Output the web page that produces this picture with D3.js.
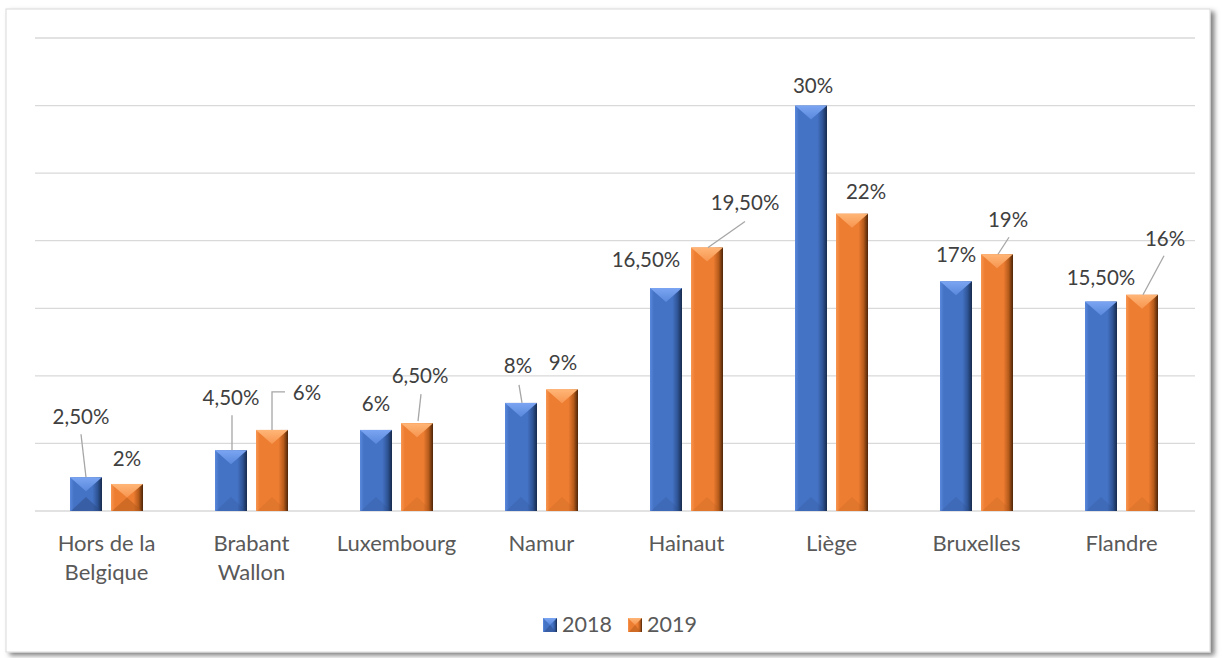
<!DOCTYPE html>
<html>
<head>
<meta charset="utf-8">
<script src="https://cdn.jsdelivr.net/npm/d3@7"></script>
<style>
  html, body { margin: 0; padding: 0; background: #fff; }
  svg { display: block; font-family: Lato, "Open Sans", sans-serif; }
</style>
</head>
<body>
<svg id="chart" width="1223" height="658"></svg>
<script>
// data
const categories = ["Hors de la Belgique", "Brabant Wallon", "Luxembourg", "Namur",
  "Hainaut", "Liège", "Bruxelles", "Flandre"];
const seriesNames = ["2018", "2019"];
const values2018 = [2.5, 4.5, 6, 8, 16.5, 30, 17, 15.5];
const values2019 = [2, 6, 6.5, 9, 19.5, 22, 19, 16];
const yTicks = [0, 5, 10, 15, 20, 25, 30, 35];

// label placement (offset from top centre of the bar), and leader lines
const labelOffsets2018 = [[-5, -60], [0, -52], [0, -26], [-3, -37], [-20, -28], [2, -20], [0, -26], [0, -24]];
const labelOffsets2019 = [[0, -25], [35, -37], [3, -47], [1, -26], [38, -44], [14, -22], [11, -34], [23, -56]];
const leaders2018 = [[[0, 0], [-5, -43]], [[1, 0], [1, -35]], null, [[1, 0], [-2, -18]], null, null, null, null];
const leaders2019 = [null, [[0, 0], [0, -38], [13, -38]], [[1, -2], [4, -29]], null, [[1, 0], [38, -26]], null, [[1, 0], [12, -17]], [[1, 0], [22, -39]]];

const palette = {
  "2018": { light: "#7ba5f2", hi: "#5a88dc", main: "#4472c4", shade: "#2f5597", dark: "#172a4c", bottom: "#2b4c88" },
  "2019": { light: "#ffb677", hi: "#f79550", main: "#ed7d31", shade: "#b85c1c", dark: "#4d2508", bottom: "#b35a1c" }
};

const svg = d3.select("#chart");
const defs = svg.append("defs");

// frame shadow
const f = defs.append("filter").attr("id", "shadow")
  .attr("x", "-2%").attr("y", "-2%").attr("width", "104%").attr("height", "106%");
f.append("feDropShadow").attr("dx", 4).attr("dy", 3).attr("stdDeviation", 2.5)
  .attr("flood-color", "#000").attr("flood-opacity", 0.5);

svg.append("rect")
  .attr("x", 6).attr("y", 9).attr("width", 1204).attr("height", 643)
  .attr("fill", "#fff").attr("stroke", "#d9d9d9").attr("stroke-width", 1)
  .attr("filter", "url(#shadow)");

// gradients per series
seriesNames.forEach(s => {
  const p = palette[s];
  const g = defs.append("linearGradient").attr("id", "body" + s)
    .attr("x1", 0).attr("x2", 1).attr("y1", 0).attr("y2", 0);
  [[0, p.hi], [0.12, p.main], [0.7, p.main], [0.86, p.shade], [1, p.dark]]
    .forEach(([o, c]) => g.append("stop").attr("offset", o).attr("stop-color", c));
  const t = defs.append("linearGradient").attr("id", "top" + s)
    .attr("x1", 0).attr("x2", 0).attr("y1", 0).attr("y2", 1);
  [[0, p.light], [1, p.hi]]
    .forEach(([o, c]) => t.append("stop").attr("offset", o).attr("stop-color", c));
});

// scales
const x0 = d3.scaleBand().domain(categories).range([35, 1195]).paddingInner(0.4828).paddingOuter(0.2414);
const x1 = d3.scaleBand().domain(seriesNames).range([0, 73]).paddingInner(0.22);
const y = d3.scaleLinear().domain([0, 35]).range([511, 38]);

// gridlines
svg.append("g").selectAll("line").data(yTicks).join("line")
  .attr("x1", 35).attr("x2", 1195)
  .attr("y1", d => y(d)).attr("y2", d => y(d))
  .attr("stroke", "#d9d9d9").attr("stroke-width", 1.3);

const fmt = v => (v % 1 ? v.toFixed(2).replace(".", ",") : v) + "%";

function bevelBar(g, s, bx, by, w, h, depth) {
  const p = palette[s];
  const d = Math.min(depth, h / 2, w / 2);
  g.append("rect").attr("x", bx).attr("y", by).attr("width", w).attr("height", h)
    .attr("fill", `url(#body${s})`);
  g.append("path")
    .attr("d", `M${bx},${by}L${bx + w},${by}L${bx + w / 2},${by + d}Z`)
    .attr("fill", `url(#top${s})`);
  g.append("path")
    .attr("d", `M${bx + 1},${by + h}L${bx + w - 1},${by + h}L${bx + w / 2},${by + h - d}Z`)
    .attr("fill", p.bottom).attr("opacity", h > 60 ? 0.2 : 0.5);
}

const series = [
  { name: "2018", values: values2018, offsets: labelOffsets2018, leaders: leaders2018 },
  { name: "2019", values: values2019, offsets: labelOffsets2019, leaders: leaders2019 }
];

const barsG = svg.append("g");
const linesG = svg.append("g");
const labelsG = svg.append("g");

series.forEach(sr => {
  sr.values.forEach((v, i) => {
    const bx = x0(categories[i]) + x1(sr.name);
    const w = x1.bandwidth();
    const top = y(v);
    const cx = bx + w / 2;
    bevelBar(barsG, sr.name, bx, top, w, y(0) - top, 14);

    const ld = sr.leaders[i];
    if (ld) {
      linesG.append("path")
        .attr("d", d3.line()(ld.map(([dx, dy]) => [cx + dx, top + dy])))
        .attr("fill", "none").attr("stroke", "#a6a6a6").attr("stroke-width", 1.3);
    }
    const [ox, oy] = sr.offsets[i];
    labelsG.append("text")
      .attr("x", cx + ox).attr("y", top + oy + 7)
      .attr("text-anchor", "middle")
      .attr("font-size", 20.5).attr("fill", "#404040")
      .text(fmt(v));
  });
});

// category axis labels (wrapped)
const axisG = svg.append("g");
categories.forEach(c => {
  const words = c.split(" ");
  const lines = [];
  let cur = "";
  words.forEach(wd => {
    const test = cur ? cur + " " + wd : wd;
    if (test.length > 10 && cur) { lines.push(cur); cur = wd; } else cur = test;
  });
  lines.push(cur);
  const t = axisG.append("text")
    .attr("text-anchor", "middle").attr("font-size", 22).attr("fill", "#595959");
  lines.forEach((ln, k) => {
    t.append("tspan").attr("x", x0(c) + x0.bandwidth() / 2 - 1).attr("y", 551 + k * 29).text(ln);
  });
});

// legend
const legend = svg.append("g");
const legendX = [543, 628];
seriesNames.forEach((s, k) => {
  bevelBar(legend, s, legendX[k], 618, 14, 14, 7);
  legend.append("text")
    .attr("x", legendX[k] + 19).attr("y", 632)
    .attr("font-size", 21.5).attr("fill", "#595959")
    .text(s);
});
</script>
</body>
</html>
